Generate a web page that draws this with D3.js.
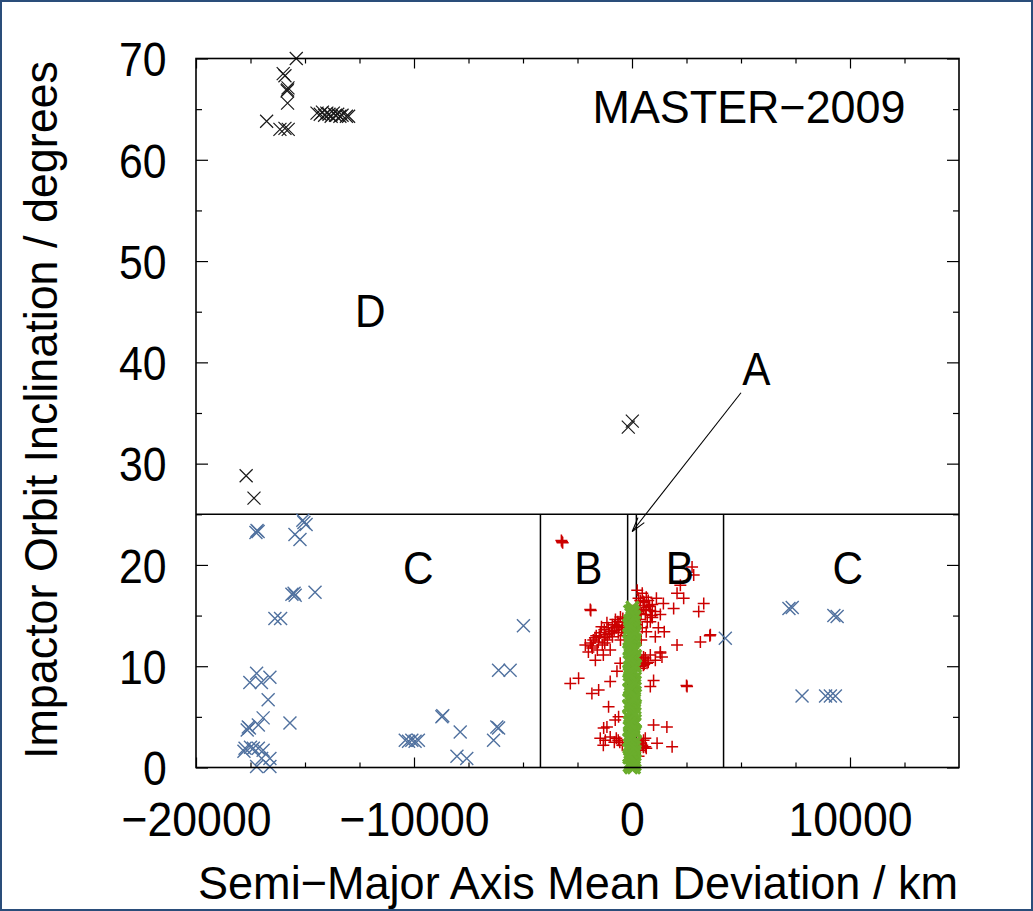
<!DOCTYPE html>
<html><head><meta charset="utf-8">
<script src="https://cdn.jsdelivr.net/npm/d3@7"></script>
<style>
html,body{margin:0;padding:0;background:#fff;}
svg{display:block;}
text{font-family:"Liberation Sans",Arial,Helvetica,sans-serif;fill:#000;}
</style></head>
<body>
<svg id="chart" width="1033" height="911"></svg>
<script>
// ---------------- DATA ----------------
const xDomain = [-20000, 15000];
const yDomain = [0, 70];
const xTickLabels = [-20000, -10000, 0, 10000];
const xMinorTicks = [-17500,-15000,-12500,-7500,-5000,-2500,2500,5000,7500,12500];
const yTickLabels = [0,10,20,30,40,50,60,70];
const yMinorTicks = [5,15,25,35,45,55,65];

// Region D (black x)
const dX = [-15400,-16000,-15920,-15800,-15780,-15820,-15800,-16760,-16150,-15920,-15770,
  -14450,-14300,-14200,-14100,-14000,-13900,-13800,-13700,-13600,-13500,-13400,-13300,-13100,-13000,
  -17700,-17340,-170,15];
const dY = [70.0,68.5,68.3,66.9,67.1,66.8,65.6,63.8,63.0,63.1,63.0,
  64.6,64.5,64.7,64.4,64.6,64.5,64.3,64.6,64.4,64.5,64.3,64.4,64.3,64.3,
  28.8,26.6,33.6,34.2];

// Region C (steel-blue x)
const cX = [-15100,-14950,-15050,-15460,-15230,-17250,-17150,-17200,-15600,-15500,-15450,-14540,
  -16380,-16120,-17220,-17530,-17000,-16610,-16690,-16920,-15690,-17140,-17650,-17550,-17600,
  -17750,-17370,-17140,-16920,-17800,-17500,-16990,-16610,-17220,-16610,
  -4980,-6120,-5590,-8720,-8680,-7880,-6200,-6120,-6350,-10400,-10250,-10100,-9950,-9800,-8030,-7580,
  7350,7200,9260,9410,4280,7800,8880,9100,9330];
const cY = [24.4,24.0,24.2,23.0,22.5,23.2,23.3,23.4,17.1,17.2,17.0,17.3,
  14.7,14.7,9.3,8.4,8.4,8.9,6.7,4.9,4.4,4.2,3.7,3.9,4.0,
  1.9,1.9,1.9,1.7,1.6,2.0,0.9,0.9,0.1,0.1,
  14.0,9.6,9.6,5.0,5.1,3.5,4.0,3.9,2.7,2.7,2.6,2.7,2.6,2.7,1.1,0.9,
  15.8,15.7,15.0,14.9,12.75,7.05,7.05,7.05,7.05];

// Region B (red +)
const bX = [-3210,-3180,-3240,-1915,-1890,2755,2830,2218,2066,2370,3290,3060,1910,3595,3570,3136,2066,2525,2500,
  -530,-760,-900,-1085,-1270,-1455,-1640,-1775,-1910,-1820,-1590,-1360,-1130,-900,-630,-445,-350,-720,-1040,-1270,
  -1545,-2140,-2000,-1315,-1000,-1680,-530,-350,-600,-820,-1150,-1400,-1700,
  -480,-700,-950,-1200,-1500,-1850,-1250,-800,-420,-650,
  240,470,655,380,745,930,200,520,840,1070,1300,290,610,930,380,700,200,470,1440,1120,350,560,800,
  300,520,760,420,650,900,
  380,610,840,250,520,745,1070,380,1300,450,560,
  840,1210,1480,655,1070,425,
  -2830,-2450,-1840,-1530,-1000,-690,-540,-1075,-770,-615,-1150,-1300,
  -1455,-1225,-1000,-810,-630,-1315,-445,290,470,610,380,655,-560,-720,420,520,
  530,690,380,1300,1375,990,840,990,1600,530,610,1150,1840,300];
const bY = [22.3,22.2,22.4,15.6,15.5,19.8,19.0,18.0,17.2,16.7,16.2,15.4,15.7,13.1,13.0,12.4,12.1,8.0,8.1,
  14.85,14.6,14.1,13.8,13.6,13.3,13.0,12.6,12.3,11.8,11.6,12.1,12.6,12.9,13.3,13.8,14.4,13.8,13.2,12.8,
  12.4,12.1,11.4,11.1,11.6,10.6,12.6,13.0,14.0,13.5,14.3,13.9,12.8,
  13.6,13.9,13.4,13.1,12.9,12.0,12.3,14.1,14.7,14.4,
  17.5,17.2,16.8,16.5,16.5,16.1,16.0,15.8,15.5,15.4,15.1,15.4,15.1,14.8,14.6,14.4,14.1,13.8,16.2,16.7,15.5,16.3,15.9,
  16.7,16.4,16.0,15.2,15.6,15.0,
  11.1,10.8,11.1,10.4,10.1,10.4,10.6,9.8,11.4,10.6,10.2,
  14.4,13.8,13.4,13.4,12.9,12.6,
  8.3,8.8,7.3,7.65,8.5,9.5,10.3,6.0,4.7,5.0,4.0,3.9,
  2.9,2.7,3.0,2.5,2.7,2.2,2.2,2.7,2.2,2.9,1.7,1.9,2.5,2.9,2.4,2.0,
  10.9,10.3,10.0,11.3,10.9,8.6,8.0,4.2,4.0,2.7,2.05,2.4,2.05,1.1];

// Region A (green x)
const aY = [0.0,0.0,0.2,0.4,0.5,0.7,0.9,1.0,1.3,1.5,1.6,1.8,2.1,2.3,2.4,2.7,2.9,3.0,3.2,3.5,3.7,3.8,4.1,4.3,4.5,4.6,
  4.9,5.1,5.2,5.5,5.7,5.9,6.0,6.3,6.5,6.6,6.9,7.1,7.3,7.4,7.7,7.9,8.1,8.2,8.5,8.7,8.8,9.1,9.3,9.5,9.6,9.9,10.1,
  10.3,10.4,10.7,10.9,11.0,11.3,11.5,11.7,11.8,12.1,12.3,12.5,12.6,12.9,13.1,13.2,13.5,13.7,13.9,14.0,14.3,14.5,
  14.6,14.9,15.1,15.3,15.5,15.8,
  0.3,1.2,2.0,2.8,3.6,4.4,5.3,6.1,6.8,7.6,8.4,9.2,10.0,10.8,11.6,12.4,13.3,14.1,14.8,15.4];
const aX = [-40,90,-110,60,-70,120,10,-120,80,-30,130,-90,40,-60,110,-130,20,70,-100,140,-20,50,-80,100,-50,130,
  -110,30,90,-70,0,120,-130,60,-40,100,-90,140,-10,70,-120,40,110,-60,20,-100,130,-30,80,-130,50,-80,120,
  0,-110,90,-50,140,-20,60,-120,110,-70,30,-100,130,-40,80,-10,100,-90,50,-130,120,-60,20,90,-30,60,-10,20,
  120,-120,110,-110,130,-100,120,-130,100,-120,130,-110,120,-100,110,-130,120,-110,100,-90];

// Region boundaries and labels
const splitY = 25;
const splitX = [-4200, -200, 200, 4200];
const regionLabels = [
  {t:"D", x:-12000, y:45.1},
  {t:"C", x:-9800, y:19.8},
  {t:"B", x:-2000, y:19.8},
  {t:"B", x:2200, y:19.8},
  {t:"C", x:9900, y:19.8},
  {t:"A", x:5700, y:39.4}
];
const arrowFrom = [5000, 37.0];
const arrowTo = [10, 23.3];
const title = "MASTER\u22122009";
const xLabel = "Semi\u2212Major Axis Mean Deviation / km";
const yLabel = "Impactor Orbit Inclination / degrees";

// ---------------- DRAW ----------------
const svg = d3.select("#chart");
const L = 196, R = 959, T = 58.5, B = 767.5;
const x = d3.scaleLinear().domain(xDomain).range([L, R]);
const y = d3.scaleLinear().domain(yDomain).range([B, T]);
const SX = 0.89;

svg.append("rect").attr("x",1).attr("y",1).attr("width",1031).attr("height",909)
  .attr("fill","#fff").attr("stroke","#2a4d7a").attr("stroke-width",2);

function styleAxis(g){ g.select(".domain").remove(); g.selectAll("line").attr("stroke","#000").attr("stroke-width",1.2); }
const fmtMinus = d => d < 0 ? "\u2212" + Math.abs(d) : String(d);

svg.append("g").attr("transform",`translate(0,${B})`)
  .call(d3.axisBottom(x).tickValues(xTickLabels).tickSizeInner(-10).tickSizeOuter(0).tickFormat(fmtMinus))
  .call(styleAxis)
  .call(g => g.selectAll("text").attr("font-size",49).attr("y",50.5).attr("dy","0.36em")
      .attr("transform",`scale(0.91,1)`).attr("fill","#000"));
svg.append("g").attr("transform",`translate(0,${B})`)
  .call(d3.axisBottom(x).tickValues(xMinorTicks).tickSizeInner(-5).tickSizeOuter(0).tickFormat(""))
  .call(styleAxis);
svg.append("g").attr("transform",`translate(0,${T})`)
  .call(d3.axisTop(x).tickValues(xTickLabels).tickSizeInner(-10).tickSizeOuter(0).tickFormat(""))
  .call(styleAxis);
svg.append("g").attr("transform",`translate(0,${T})`)
  .call(d3.axisTop(x).tickValues(xMinorTicks).tickSizeInner(-5).tickSizeOuter(0).tickFormat(""))
  .call(styleAxis);

svg.append("g").attr("transform",`translate(${L},0)`)
  .call(d3.axisLeft(y).tickValues(yTickLabels).tickSizeInner(-12).tickSizeOuter(0))
  .call(styleAxis)
  .call(g => g.selectAll("text").attr("font-size",48).attr("x",-33).attr("dy","0.36em")
      .attr("transform",`scale(${SX},1)`).attr("fill","#000"));
svg.append("g").attr("transform",`translate(${L},0)`)
  .call(d3.axisLeft(y).tickValues(yMinorTicks).tickSizeInner(-6).tickSizeOuter(0).tickFormat(""))
  .call(styleAxis);
svg.append("g").attr("transform",`translate(${R},0)`)
  .call(d3.axisRight(y).tickValues(yTickLabels).tickSizeInner(-12).tickSizeOuter(0).tickFormat(""))
  .call(styleAxis);
svg.append("g").attr("transform",`translate(${R},0)`)
  .call(d3.axisRight(y).tickValues(yMinorTicks).tickSizeInner(-6).tickSizeOuter(0).tickFormat(""))
  .call(styleAxis);

// region lines
svg.append("line").attr("x1",L).attr("x2",R).attr("y1",y(splitY)).attr("y2",y(splitY))
  .attr("stroke","#000").attr("stroke-width",1.5);
svg.selectAll(".split").data(splitX).join("line")
  .attr("x1",d=>x(d)).attr("x2",d=>x(d)).attr("y1",y(0)).attr("y2",y(splitY))
  .attr("stroke","#000").attr("stroke-width",1.5);

// markers
const crossPath = s => `M${-s},${-s}L${s},${s}M${-s},${s}L${s},${-s}`;
const plusPath = s => `M${-s},0L${s},0M0,${-s}L0,${s}`;
function drawPts(xs, ys, path, color, sw){
  svg.append("g").selectAll("path").data(xs.map((v,i)=>[v, ys[i]])).join("path")
    .attr("transform", d=>`translate(${x(d[0])},${y(d[1])})`)
    .attr("d", path).attr("fill","none").attr("stroke",color).attr("stroke-width",sw);
}
drawPts(bX, bY, plusPath(6), "#cc0000", 1.5);
drawPts(cX, cY, crossPath(6.5), "#50719f", 1.4);
drawPts(aX, aY, crossPath(6.2), "#6aad2c", 3.2);
drawPts(dX, dY, crossPath(6.5), "#1a1a1a", 1.2);

// frame
svg.append("rect").attr("x",L).attr("y",T).attr("width",R-L).attr("height",B-T)
  .attr("fill","none").attr("stroke","#000").attr("stroke-width",1.6);

// arrow
const ax1 = x(arrowFrom[0]), ay1 = y(arrowFrom[1]), ax2 = x(arrowTo[0]), ay2 = y(arrowTo[1]);
svg.append("line").attr("x1",ax1).attr("y1",ay1).attr("x2",ax2).attr("y2",ay2)
  .attr("stroke","#000").attr("stroke-width",1.1);
const ang = Math.atan2(ay1-ay2, ax1-ax2);
[0.27,-0.27].forEach(da=>{
  svg.append("line").attr("x1",ax2).attr("y1",ay2)
    .attr("x2",ax2+15*Math.cos(ang+da)).attr("y2",ay2+15*Math.sin(ang+da))
    .attr("stroke","#000").attr("stroke-width",1.1);
});

// text helper
function txt(px, py, s, size, anchor, sx, rot, len){
  const g = svg.append("g").attr("transform",`translate(${px},${py})${rot?` rotate(${rot})`:""} scale(${sx},1)`);
  const t = g.append("text").attr("text-anchor",anchor).attr("dy","0.36em").attr("font-size",size).text(s);
  if (len) t.attr("textLength", len).attr("lengthAdjust","spacingAndGlyphs");
}
regionLabels.forEach(r => txt(x(r.x), y(r.y), r.t, 46, "middle", 0.92));
txt(749, 106, title, 46, "middle", 1, 0, 313);
txt(578, 882, xLabel, 47, "middle", 1, 0, 760);
txt(40, 410, yLabel, 47, "middle", 1, -90, 698);
</script>
</body></html>
